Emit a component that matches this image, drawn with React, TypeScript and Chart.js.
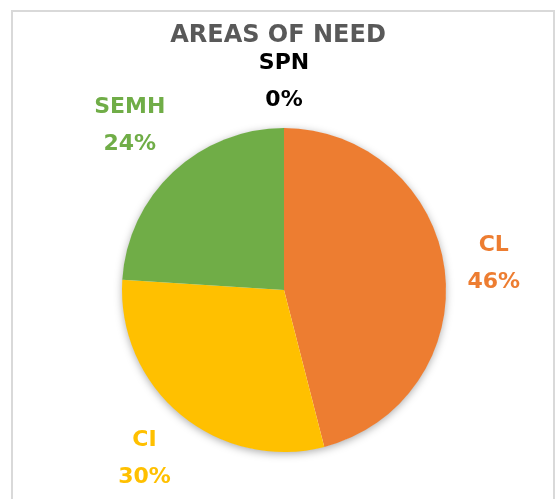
import React, { useEffect, useRef } from "react";
import { Chart, registerables } from "chart.js";

Chart.register(...registerables);

const categories = ["CL", "CI", "SEMH", "SPN"];
const values = [46, 30, 24, 0];
const sliceColors = ["#ED7D31", "#FFC000", "#70AD47", "#4472C4"];
const labelColors = ["#ED7D31", "#FFC000", "#70AD47", "#000000"];
const titleText = "AREAS OF NEED";

const FONT = '"Comic Sans MS", "DejaVu Sans", sans-serif';

const framePlugin = {
  id: "frame",
  beforeDraw(chart: any) {
    const ctx = chart.ctx;
    ctx.save();
    ctx.fillStyle = "#ffffff";
    ctx.fillRect(0, 0, chart.width, chart.height);
    ctx.strokeStyle = "#d9d9d9";
    ctx.lineWidth = 2;
    ctx.beginPath();
    ctx.moveTo(12, chart.height + 2);
    ctx.lineTo(12, 11);
    ctx.lineTo(554, 11);
    ctx.lineTo(554, chart.height + 2);
    ctx.stroke();
    ctx.fillStyle = "#595959";
    ctx.font = `bold 24px ${FONT}`;
    ctx.textAlign = "center";
    ctx.textBaseline = "middle";
    ctx.fillText(titleText, 278, 36);
    ctx.restore();
  },
  beforeDatasetsDraw(chart: any) {
    const meta = chart.getDatasetMeta(0);
    const arc = meta.data[0];
    if (!arc) return;
    const ctx = chart.ctx;
    ctx.save();
    ctx.shadowColor = "rgba(0,0,0,0.35)";
    ctx.shadowBlur = 9;
    ctx.shadowOffsetY = 2;
    ctx.fillStyle = "#ffffff";
    ctx.beginPath();
    ctx.arc(arc.x, arc.y, arc.outerRadius - 0.5, 0, Math.PI * 2);
    ctx.fill();
    ctx.restore();
  },
  afterDatasetsDraw(chart: any) {
    const meta = chart.getDatasetMeta(0);
    const ctx = chart.ctx;
    const data = chart.data.datasets[0].data as number[];
    const total = data.reduce((a, b) => a + b, 0);
    ctx.save();
    ctx.font = `bold 22px ${FONT}`;
    ctx.textAlign = "center";
    ctx.textBaseline = "middle";
    const lineGap = 37;
    const gap = 20;
    const halfH = 26;
    meta.data.forEach((el: any, i: number) => {
      const mid = (el.startAngle + el.endAngle) / 2;
      const ux = Math.cos(mid);
      const uy = Math.sin(mid);
      const l1 = String(chart.data.labels[i]);
      const l2 = Math.round((data[i] / total) * 100) + "%";
      const w = Math.max(ctx.measureText(l1).width, ctx.measureText(l2).width);
      const support = Math.abs(ux) * w / 2 + Math.abs(uy) * halfH;
      const d = el.outerRadius + gap + support;
      const cx = el.x + ux * d;
      const cy = el.y + uy * d;
      ctx.fillStyle = labelColors[i];
      ctx.fillText(l1, cx, cy - lineGap / 2);
      ctx.fillText(l2, cx, cy + lineGap / 2);
    });
    ctx.restore();
  },
};

export default function App() {
  const ref = useRef<HTMLCanvasElement>(null);
  useEffect(() => {
    if (!ref.current) return;
    const chart = new Chart(ref.current, {
      type: "pie",
      data: {
        labels: categories,
        datasets: [
          {
            data: values,
            backgroundColor: sliceColors,
            borderWidth: 0,
          },
        ],
      },
      options: {
        animation: false,
        responsive: false,
        layout: { padding: { left: 122, right: 109, top: 128, bottom: 47 } },
        plugins: {
          legend: { display: false },
          title: { display: false },
          tooltip: { enabled: false },
        },
      },
      plugins: [framePlugin],
    });
    return () => chart.destroy();
  }, []);
  return (
    <div style={{ position: "absolute", left: 0, top: 0, width: 555, height: 499 }}>
      <canvas ref={ref} width={555} height={499} style={{ width: 555, height: 499 }} />
    </div>
  );
}
